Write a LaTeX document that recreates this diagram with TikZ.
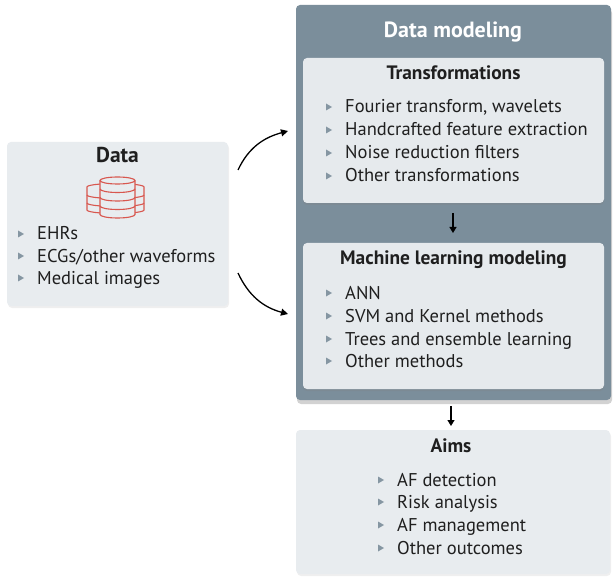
\documentclass[tikz,border=0pt]{standalone}
\usepackage{fontspec}
\setmainfont{PT Sans}
\usetikzlibrary{shadows,arrows.meta}
\definecolor{outerc}{HTML}{7B8E9B}
\definecolor{lightc}{HTML}{E8ECEF}
\definecolor{innerc}{HTML}{E6EAED}
\definecolor{bulc}{HTML}{8596A2}
\definecolor{iconc}{HTML}{D8574F}
\tikzset{
  lightbox/.style={fill=lightc, rounded corners=4pt, drop shadow={opacity=0.12, shadow xshift=1pt, shadow yshift=-2pt}},
  innerbox/.style={fill=innerc, rounded corners=4pt, drop shadow={opacity=0.25, shadow xshift=0pt, shadow yshift=-2pt}},
  outerbox/.style={fill=outerc, rounded corners=4pt, drop shadow={opacity=0.35, shadow xshift=1pt, shadow yshift=-4pt}},
  itemtext/.style={font=\fontsize{18.5}{22}\selectfont, inner sep=0pt, anchor=base west, text=black!88},
  titletext/.style={font=\fontsize{19.4}{22}\selectfont\bfseries, inner sep=0pt, anchor=base, text=black!88},
  flow/.style={-{Triangle[length=7pt,width=7pt]}, line width=1.3pt, black},
  iconline/.style={draw=iconc, line width=1.1pt, fill=lightc},
  iconstroke/.style={draw=iconc, line width=1.1pt},
}
\newcommand{\itm}[4]{%
  \fill[bulc] (#2-19,#3-9.5) -- (#2-19,#3-2.5) -- (#2-13,#3-6) -- cycle;
  \node[itemtext] (#1) at (#2,#3) {#4};}
\begin{document}
\begin{tikzpicture}[x=1pt,y=-1pt]
\useasboundingbox (0,0) rectangle (616,580);
\fill[white] (0,0) rectangle (616,580);

% Data box
\path[lightbox] (7,142) rectangle (228,306);
\node[titletext, font=\fontsize{21.5}{22}\selectfont\bfseries] (dtitle) at (117.5,163) {Data};
% database icon: back cylinder
\path[iconline] (87,187) -- (87,210) arc[start angle=180,end angle=0,x radius=28.5,y radius=3.5] -- (144,187) arc[start angle=0,end angle=-180,x radius=28.5,y radius=3.5] -- cycle;
\draw[iconstroke] (87,195) arc[start angle=180,end angle=0,x radius=28.5,y radius=3.5];
\draw[iconstroke] (87,203) arc[start angle=180,end angle=0,x radius=28.5,y radius=3.5];
% front cylinder
\path[iconline] (100,180.5) -- (100,214.5) arc[start angle=180,end angle=0,x radius=17.5,y radius=3.5] -- (135,180.5) arc[start angle=0,end angle=-180,x radius=17.5,y radius=3.5] -- cycle;
\draw[iconstroke] (100,180.5) arc[start angle=180,end angle=0,x radius=17.5,y radius=3.5];
\draw[iconstroke] (100,189) arc[start angle=180,end angle=0,x radius=17.5,y radius=3.5];
\draw[iconstroke] (100,197.5) arc[start angle=180,end angle=0,x radius=17.5,y radius=3.5];
\draw[iconstroke] (100,206) arc[start angle=180,end angle=0,x radius=17.5,y radius=3.5];
\itm{d1}{37}{240}{EHRs}
\itm{d2}{37}{262}{ECGs/other waveforms}
\itm{d3}{37}{284}{Medical images}

% Data modeling box
\path[outerbox] (296,5) rectangle (611,400);
\node[titletext, text=white, font=\fontsize{22}{24}\selectfont\bfseries] (mtitle) at (453,38) {Data modeling};

% Transformations
\path[innerbox] (303,58) rectangle (604,203);
\node[titletext] (ttitle) at (453.5,80) {Transformations};
\itm{t1}{345}{113}{Fourier transform, wavelets}
\itm{t2}{345}{136}{Handcrafted feature extraction}
\itm{t3}{345}{159}{Noise reduction filters}
\itm{t4}{345}{182}{Other transformations}

% ML
\path[innerbox] (303,243) rectangle (604,389);
\node[titletext] (mltitle) at (453.5,265) {Machine learning modeling};
\itm{m1}{345}{299}{ANN}
\itm{m2}{345}{322}{SVM and Kernel methods}
\itm{m3}{345}{345}{Trees and ensemble learning}
\itm{m4}{345}{367}{Other methods}

% Aims
\path[lightbox] (296,430) rectangle (610,574);
\node[titletext] (atitle) at (451,452) {Aims};
\itm{a1}{397}{486}{AF detection}
\itm{a2}{397}{508}{Risk analysis}
\itm{a3}{397}{531}{AF management}
\itm{a4}{397}{554}{Other outcomes}

% connectors
\coordinate (c1s) at (238,170);
\coordinate (c1e) at (288,131);
\coordinate (c2s) at (238,273);
\coordinate (c2e) at (288,314);
\draw[flow] (c1s) to[out=65,in=195] (c1e);
\draw[flow] (c2s) to[out=-65,in=165] (c2e);
\coordinate (v1s) at (453,213);
\coordinate (v1e) at (453,233);
\coordinate (v2s) at (451,406);
\coordinate (v2e) at (451,426);
\draw[flow, line width=1.2pt, -{Triangle[length=6pt,width=7pt]}] (v1s) -- (v1e);
\draw[flow, line width=1.2pt, -{Triangle[length=6pt,width=7pt]}] (v2s) -- (v2e);
\end{tikzpicture}
\end{document}
